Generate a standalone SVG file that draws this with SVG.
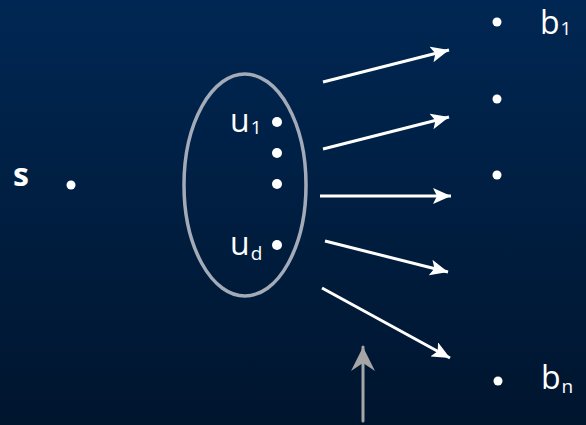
<svg xmlns="http://www.w3.org/2000/svg" width="586" height="425" viewBox="0 0 586 425">
<defs>
<linearGradient id="bg" x1="0" y1="0" x2="0" y2="1">
<stop offset="0" stop-color="#002753"/>
<stop offset="1" stop-color="#00152e"/>
</linearGradient>
<marker id="wh" markerUnits="userSpaceOnUse" markerWidth="20" markerHeight="16" refX="18" refY="8" orient="auto">
<path d="M0,0 L18,8 L0,16 L4,8 Z" fill="#ffffff"/>
</marker>
<marker id="gr" markerUnits="userSpaceOnUse" markerWidth="26" markerHeight="26" refX="24" refY="13" orient="auto">
<path d="M0,1 L24,13 L0,25 L8,13 Z" fill="#a6a6a6"/>
</marker>
</defs>
<style>
.dot{fill:#ffffff}
.lbl{fill:#ffffff;font-family:"Open Sans","Noto Sans",sans-serif;font-size:32px}
.sub{font-size:19px}
.arr{stroke:#ffffff;stroke-width:3;fill:none;marker-end:url(#wh)}
</style>
<rect width="586" height="425" fill="url(#bg)"/>
<g id="s">
<text class="lbl" x="13" y="186" font-weight="bold" font-size="32">s</text>
<circle class="dot" cx="71" cy="185" r="4.5"/>
</g>
<g id="U">
<ellipse cx="245" cy="185" rx="61" ry="111" fill="none" stroke="#a3abb8" stroke-width="3.5"/>
<g id="u1">
<circle class="dot" cx="277" cy="122" r="5"/>
<text class="lbl" x="230" y="132">u<tspan class="sub" dx="1" dy="2">1</tspan></text>
</g>
<circle class="dot" cx="277" cy="153" r="5"/>
<circle class="dot" cx="277" cy="184" r="5"/>
<g id="ud">
<circle class="dot" cx="277" cy="245" r="5"/>
<text class="lbl" x="230" y="255">u<tspan class="sub" dx="1" dy="5">d</tspan></text>
</g>
</g>
<g id="b1"><circle class="dot" cx="497" cy="22" r="4.5"/><text class="lbl" x="540" y="34" font-size="30">b<tspan class="sub" dx="1" dy="1">1</tspan></text></g>
<g id="b2"><circle class="dot" cx="497" cy="99" r="4.5"/></g>
<g id="b3"><circle class="dot" cx="497" cy="175" r="4.5"/></g>
<g id="bn"><circle class="dot" cx="498" cy="381" r="4.5"/><text class="lbl" x="541" y="389" font-size="30">b<tspan class="sub" dx="1" dy="4">n</tspan></text></g>
<g id="connectors">
<line class="arr" x1="323" y1="82" x2="449" y2="50"/>
<line class="arr" x1="323" y1="149" x2="449" y2="117"/>
<line class="arr" x1="320" y1="196" x2="451" y2="196"/>
<line class="arr" x1="325" y1="241" x2="448" y2="272"/>
<line class="arr" x1="322" y1="288" x2="450" y2="358"/>
<line x1="363" y1="421" x2="363" y2="347" stroke="#a6a6a6" stroke-width="3" stroke-linecap="round" marker-end="url(#gr)"/>
</g>
</svg>
